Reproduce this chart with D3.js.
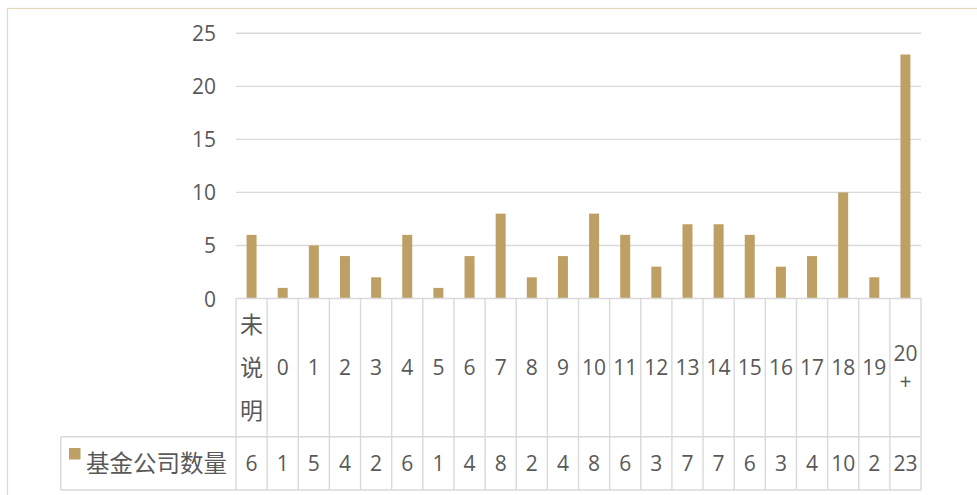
<!DOCTYPE html>
<html>
<head>
<meta charset="utf-8">
<script src="https://cdn.jsdelivr.net/npm/d3@7/dist/d3.min.js"></script>
<style>
  html, body { margin: 0; padding: 0; background: #fff; }
  svg { display: block; }
  text { fill: #595959; }
</style>
</head>
<body>
<svg id="chart" width="977" height="495"></svg>
<script>
// ---- data ----
const categories = ["未说明", "0", "1", "2", "3", "4", "5", "6", "7", "8", "9", "10",
  "11", "12", "13", "14", "15", "16", "17", "18", "19", "20+"];
const seriesName = "基金公司数量";
const seriesValues = [6, 1, 5, 4, 2, 6, 1, 4, 8, 2, 4, 8, 6, 3, 7, 7, 6, 3, 4, 10, 2, 23];
const yTicks = [0, 5, 10, 15, 20, 25];

// ---- layout ----
const W = 977, H = 495;
const plotL = 236, plotR = 921;
const yTopPx = 33.3, yZeroPx = 298.5;
const catRowBottom = 436.7, tableBottom = 490;
const legendLeft = 60.7;
const barColor = "#BFA064";
const gridColor = "#D9D9D9";
const latinFont = "'Open Sans', 'Noto Sans', sans-serif";
const cjkFont = "'Noto Sans CJK SC', 'Open Sans', sans-serif";
const isCJK = s => /[\u4e00-\u9fff]/.test(s);

const svg = d3.select("#chart");

// chart outer border
svg.append("rect")
  .attr("x", 7.5).attr("y", 8.5).attr("width", W + 20).attr("height", H + 20)
  .attr("fill", "none").attr("stroke", "#E2D8BC").attr("stroke-width", 1.2);

const x = d3.scaleBand().domain(categories).range([plotL, plotR]).paddingInner(0).paddingOuter(0);
const y = d3.scaleLinear().domain([0, 25]).range([yZeroPx, yTopPx]);
const barW = 10;

// gridlines
svg.append("g").selectAll("line").data(yTicks.filter(t => t > 0)).join("line")
  .attr("x1", plotL).attr("x2", plotR)
  .attr("y1", d => y(d)).attr("y2", d => y(d))
  .attr("stroke", gridColor).attr("stroke-width", 1.4);

// y axis labels
const yAxis = d3.axisLeft(y).tickValues(yTicks).tickSize(0).tickPadding(0);
const gy = svg.append("g").attr("transform", "translate(216,0)").call(yAxis);
gy.select(".domain").remove();
gy.selectAll("text")
  .attr("font-family", latinFont).attr("font-size", 21)
  .attr("fill", "#595959").attr("dy", null)
  .attr("dominant-baseline", "auto")
  .attr("transform", "translate(0,7.5)");

// bars
svg.append("g").selectAll("rect").data(seriesValues).join("rect")
  .attr("x", (d, i) => x(categories[i]) + (x.bandwidth() - barW) / 2)
  .attr("width", barW)
  .attr("y", d => y(d))
  .attr("height", d => y(0) - y(d))
  .attr("fill", barColor);

// ---- data table ----
const tg = svg.append("g").attr("stroke", gridColor).attr("stroke-width", 1.4).attr("fill", "none");
// horizontal lines
tg.append("line").attr("x1", plotL).attr("x2", plotR).attr("y1", yZeroPx).attr("y2", yZeroPx);
tg.append("line").attr("x1", legendLeft).attr("x2", plotR).attr("y1", catRowBottom).attr("y2", catRowBottom);
tg.append("line").attr("x1", legendLeft).attr("x2", plotR).attr("y1", tableBottom).attr("y2", tableBottom);
// vertical lines at category boundaries
const bounds = categories.map(c => x(c)).concat([plotR]);
tg.selectAll("line.v").data(bounds).join("line").attr("class", "v")
  .attr("x1", d => d).attr("x2", d => d)
  .attr("y1", yZeroPx).attr("y2", tableBottom);
tg.append("line").attr("x1", legendLeft).attr("x2", legendLeft)
  .attr("y1", catRowBottom).attr("y2", tableBottom);

// category labels (wrapped in the narrow cells)
function splitLabel(s) {
  if (isCJK(s)) return s.split("");
  if (s.length > 2) return [s.slice(0, 2), s.slice(2)];
  return [s];
}
const catMid = 367.5;
const cg = svg.append("g");
categories.forEach(c => {
  const lines = splitLabel(c);
  const cjk = isCJK(c);
  const lh = cjk ? 43.3 : 27.3;
  const fs = cjk ? 23 : 21;
  const base = cjk ? 0.37 * fs : 0.357 * fs;
  const cx = x(c) + x.bandwidth() / 2;
  lines.forEach((ln, j) => {
    const cy = catMid + (j - (lines.length - 1) / 2) * lh;
    cg.append("text")
      .attr("x", cx).attr("y", cy + base)
      .attr("text-anchor", "middle")
      .attr("font-family", cjk ? cjkFont : latinFont)
      .attr("font-size", fs)
      .text(ln);
  });
});

// values row
const valMid = 463;
svg.append("g").selectAll("text").data(seriesValues).join("text")
  .attr("x", (d, i) => x(categories[i]) + x.bandwidth() / 2)
  .attr("y", valMid + 7.5)
  .attr("text-anchor", "middle")
  .attr("font-family", latinFont).attr("font-size", 21)
  .text(d => d);

// legend key + series name
svg.append("rect").attr("x", 69).attr("y", 448).attr("width", 11.5).attr("height", 11.5).attr("fill", barColor);
svg.append("text").attr("x", 86).attr("y", valMid + 8.5)
  .attr("font-family", cjkFont).attr("font-size", 23.5)
  .text(seriesName);
</script>
</body>
</html>
